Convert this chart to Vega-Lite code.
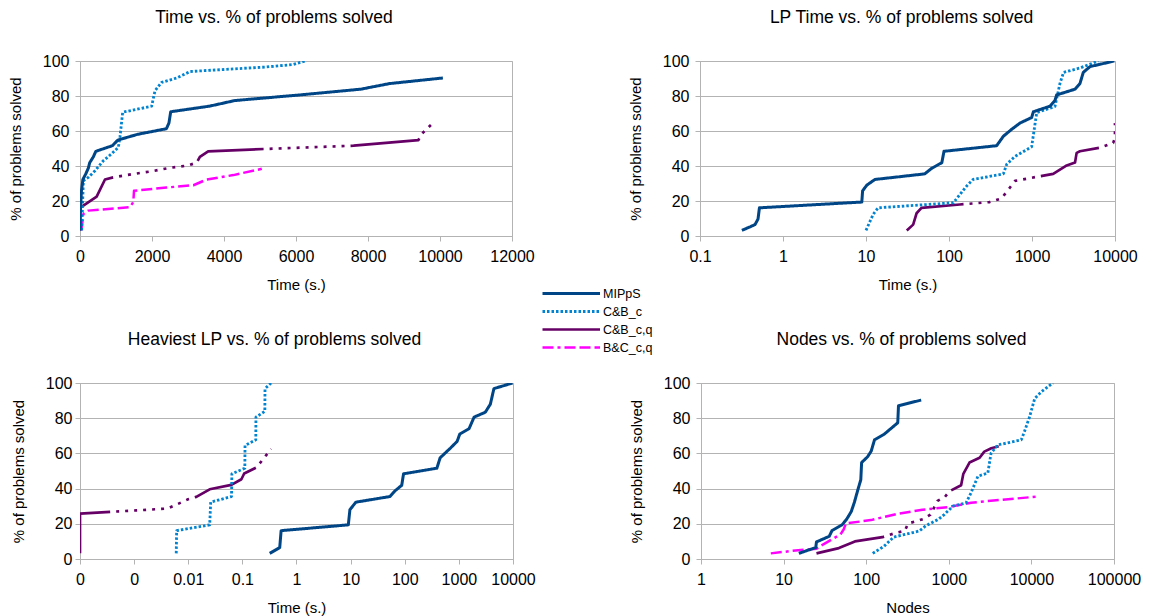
{
  "$schema": "https://vega.github.io/schema/vega-lite/v6.json",
  "background": "white",
  "padding": {"left": 7, "top": 8, "right": 5, "bottom": 5},
  "config": {
    "font": "Liberation Sans",
    "axis": {"labelFont": "Liberation Sans", "labelFontSize": 16, "labelColor": "#000", "titleFont": "Liberation Sans", "titleFontSize": 15, "titleFontWeight": "normal", "titleColor": "#000", "domainColor": "#b3b3b3", "tickColor": "#b3b3b3", "gridColor": "#b3b3b3", "tickSize": 5, "labelOverlap": false},
    "axisX": {"grid": false, "labelPadding": 7, "titlePadding": 13, "labelFlush": false},
    "axisY": {"grid": true, "labelPadding": 6, "titlePadding": 19},
    "view": {"stroke": "#b3b3b3", "strokeWidth": 1},
    "title": {"font": "Liberation Sans", "fontSize": 17.5, "fontWeight": "normal", "color": "#000", "anchor": "middle", "offset": 27},
    "legend": {"orient": "none", "legendX": 461, "legendY": 226, "symbolType": "M-1,0H10.5", "symbolSize": 100, "symbolStrokeWidth": 1.5, "labelFont": "Liberation Sans", "labelFontSize": 12.5, "labelColor": "#000", "labelOffset": 49, "rowPadding": 5, "title": null}
  },
  "data": {"values": [
    {"p":"time","s":"B&C_c,q","x":40,"y":3.2},{"p":"time","s":"B&C_c,q","x":47,"y":5},{"p":"time","s":"B&C_c,q","x":93,"y":12.6},{"p":"time","s":"B&C_c,q","x":231,"y":14.5},{"p":"time","s":"B&C_c,q","x":1389,"y":16.5},{"p":"time","s":"B&C_c,q","x":1481,"y":19.4},{"p":"time","s":"B&C_c,q","x":1500,"y":25.8},{"p":"time","s":"B&C_c,q","x":2400,"y":27.7},{"p":"time","s":"B&C_c,q","x":3150,"y":29},{"p":"time","s":"B&C_c,q","x":3520,"y":32.3},{"p":"time","s":"B&C_c,q","x":4260,"y":34.8},{"p":"time","s":"B&C_c,q","x":5050,"y":38.4},
    {"p":"time","s":"C&B_c,q","x":0,"y":3.2},{"p":"time","s":"C&B_c,q","x":5,"y":16.1},{"p":"time","s":"C&B_c,q","x":93,"y":17.3},{"p":"time","s":"C&B_c,q","x":463,"y":22.5},{"p":"time","s":"C&B_c,q","x":694,"y":32.3},{"p":"time","s":"C&B_c,q","x":925,"y":33.5},{"p":"time","s":"C&B_c,q","x":1500,"y":35.5},{"p":"time","s":"C&B_c,q","x":2000,"y":37},{"p":"time","s":"C&B_c,q","x":2500,"y":39},{"p":"time","s":"C&B_c,q","x":3000,"y":40.3},{"p":"time","s":"C&B_c,q","x":3240,"y":41.9},{"p":"time","s":"C&B_c,q","x":3330,"y":45.2},{"p":"time","s":"C&B_c,q","x":3560,"y":48.4},{"p":"time","s":"C&B_c,q","x":5100,"y":49.7},{"p":"time","s":"C&B_c,q","x":7600,"y":51.6},{"p":"time","s":"C&B_c,q","x":9400,"y":54.8},{"p":"time","s":"C&B_c,q","x":9480,"y":58.1},{"p":"time","s":"C&B_c,q","x":9800,"y":64.5},
    {"p":"time","s":"C&B_c","x":47,"y":3.2},{"p":"time","s":"C&B_c","x":93,"y":31.6},{"p":"time","s":"C&B_c","x":231,"y":33.5},{"p":"time","s":"C&B_c","x":417,"y":37.3},{"p":"time","s":"C&B_c","x":648,"y":43},{"p":"time","s":"C&B_c","x":880,"y":47},{"p":"time","s":"C&B_c","x":1065,"y":50.7},{"p":"time","s":"C&B_c","x":1111,"y":56.6},{"p":"time","s":"C&B_c","x":1185,"y":70.7},{"p":"time","s":"C&B_c","x":1990,"y":74.2},{"p":"time","s":"C&B_c","x":2083,"y":83},{"p":"time","s":"C&B_c","x":2269,"y":87.8},{"p":"time","s":"C&B_c","x":2685,"y":90.3},{"p":"time","s":"C&B_c","x":3060,"y":94},{"p":"time","s":"C&B_c","x":5185,"y":96.6},{"p":"time","s":"C&B_c","x":5925,"y":98},{"p":"time","s":"C&B_c","x":6250,"y":100},
    {"p":"time","s":"MIPpS","x":0,"y":3.2},{"p":"time","s":"MIPpS","x":5,"y":10},{"p":"time","s":"MIPpS","x":15,"y":16.1},{"p":"time","s":"MIPpS","x":40,"y":25.8},{"p":"time","s":"MIPpS","x":80,"y":32.3},{"p":"time","s":"MIPpS","x":160,"y":35.5},{"p":"time","s":"MIPpS","x":230,"y":38.7},{"p":"time","s":"MIPpS","x":270,"y":41.9},{"p":"time","s":"MIPpS","x":370,"y":45.2},{"p":"time","s":"MIPpS","x":440,"y":48.4},{"p":"time","s":"MIPpS","x":900,"y":51.6},{"p":"time","s":"MIPpS","x":1050,"y":54.8},{"p":"time","s":"MIPpS","x":1600,"y":58.1},{"p":"time","s":"MIPpS","x":2400,"y":61.3},{"p":"time","s":"MIPpS","x":2470,"y":64.5},{"p":"time","s":"MIPpS","x":2520,"y":71},{"p":"time","s":"MIPpS","x":3600,"y":74.2},{"p":"time","s":"MIPpS","x":4300,"y":77.4},{"p":"time","s":"MIPpS","x":6100,"y":80.6},{"p":"time","s":"MIPpS","x":7800,"y":83.9},{"p":"time","s":"MIPpS","x":8600,"y":87.1},{"p":"time","s":"MIPpS","x":10080,"y":90.3},

    {"p":"lp","s":"C&B_c,q","x":31,"y":3.2},{"p":"lp","s":"C&B_c,q","x":37,"y":6.5},{"p":"lp","s":"C&B_c,q","x":40.7,"y":13},{"p":"lp","s":"C&B_c,q","x":46.6,"y":16.1},{"p":"lp","s":"C&B_c,q","x":135,"y":18},{"p":"lp","s":"C&B_c,q","x":309,"y":19.4},{"p":"lp","s":"C&B_c,q","x":430,"y":21.5},{"p":"lp","s":"C&B_c,q","x":540,"y":27.6},{"p":"lp","s":"C&B_c,q","x":625,"y":31.5},{"p":"lp","s":"C&B_c,q","x":1140,"y":33.8},{"p":"lp","s":"C&B_c,q","x":1800,"y":35.5},{"p":"lp","s":"C&B_c,q","x":2620,"y":40.3},{"p":"lp","s":"C&B_c,q","x":3300,"y":42},{"p":"lp","s":"C&B_c,q","x":3450,"y":47.5},{"p":"lp","s":"C&B_c,q","x":3780,"y":48.4},{"p":"lp","s":"C&B_c,q","x":6600,"y":50.5},{"p":"lp","s":"C&B_c,q","x":9500,"y":53.2},{"p":"lp","s":"C&B_c,q","x":9990,"y":56},{"p":"lp","s":"C&B_c,q","x":9995,"y":61.3},{"p":"lp","s":"C&B_c,q","x":10000,"y":64.5},
    {"p":"lp","s":"C&B_c","x":10,"y":3.2},{"p":"lp","s":"C&B_c","x":12.2,"y":12.4},{"p":"lp","s":"C&B_c","x":14,"y":16.1},{"p":"lp","s":"C&B_c","x":113,"y":19},{"p":"lp","s":"C&B_c","x":163,"y":28.5},{"p":"lp","s":"C&B_c","x":195,"y":32.3},{"p":"lp","s":"C&B_c","x":452,"y":35.5},{"p":"lp","s":"C&B_c","x":496,"y":41},{"p":"lp","s":"C&B_c","x":625,"y":45.5},{"p":"lp","s":"C&B_c","x":990,"y":51},{"p":"lp","s":"C&B_c","x":1140,"y":70.5},{"p":"lp","s":"C&B_c","x":1890,"y":74},{"p":"lp","s":"C&B_c","x":2170,"y":87.1},{"p":"lp","s":"C&B_c","x":2400,"y":93.5},{"p":"lp","s":"C&B_c","x":3780,"y":96},{"p":"lp","s":"C&B_c","x":6300,"y":100},
    {"p":"lp","s":"MIPpS","x":0.32,"y":3.2},{"p":"lp","s":"MIPpS","x":0.46,"y":6.5},{"p":"lp","s":"MIPpS","x":0.5,"y":9.7},{"p":"lp","s":"MIPpS","x":0.52,"y":16.1},{"p":"lp","s":"MIPpS","x":8.9,"y":19.4},{"p":"lp","s":"MIPpS","x":9.1,"y":25.8},{"p":"lp","s":"MIPpS","x":10.2,"y":29},{"p":"lp","s":"MIPpS","x":12.8,"y":32.3},{"p":"lp","s":"MIPpS","x":51,"y":35.5},{"p":"lp","s":"MIPpS","x":62,"y":38.7},{"p":"lp","s":"MIPpS","x":82,"y":41.9},{"p":"lp","s":"MIPpS","x":87,"y":48.4},{"p":"lp","s":"MIPpS","x":375,"y":51.6},{"p":"lp","s":"MIPpS","x":452,"y":57},{"p":"lp","s":"MIPpS","x":570,"y":61},{"p":"lp","s":"MIPpS","x":715,"y":64.5},{"p":"lp","s":"MIPpS","x":990,"y":67.7},{"p":"lp","s":"MIPpS","x":1040,"y":71},{"p":"lp","s":"MIPpS","x":1650,"y":74.2},{"p":"lp","s":"MIPpS","x":1890,"y":77.4},{"p":"lp","s":"MIPpS","x":1980,"y":80.6},{"p":"lp","s":"MIPpS","x":3300,"y":83.9},{"p":"lp","s":"MIPpS","x":3780,"y":87.1},{"p":"lp","s":"MIPpS","x":4150,"y":93.5},{"p":"lp","s":"MIPpS","x":5000,"y":96.8},{"p":"lp","s":"MIPpS","x":9800,"y":100},

    {"p":"heavy","s":"C&B_c,q","x":0.0001,"y":3.2},{"p":"heavy","s":"C&B_c,q","x":0.0001,"y":25.8},{"p":"heavy","s":"C&B_c,q","x":0.0004,"y":26.9},{"p":"heavy","s":"C&B_c,q","x":0.0011,"y":27.6},{"p":"heavy","s":"C&B_c,q","x":0.0042,"y":28.7},{"p":"heavy","s":"C&B_c,q","x":0.0099,"y":33.9},{"p":"heavy","s":"C&B_c,q","x":0.0141,"y":35.3},{"p":"heavy","s":"C&B_c,q","x":0.0249,"y":39.6},{"p":"heavy","s":"C&B_c,q","x":0.0627,"y":42.1},{"p":"heavy","s":"C&B_c,q","x":0.096,"y":45.3},{"p":"heavy","s":"C&B_c,q","x":0.108,"y":48.6},{"p":"heavy","s":"C&B_c,q","x":0.182,"y":52},{"p":"heavy","s":"C&B_c,q","x":0.34,"y":62.5},
    {"p":"heavy","s":"C&B_c","x":0.006,"y":3.2},{"p":"heavy","s":"C&B_c","x":0.0061,"y":16.1},{"p":"heavy","s":"C&B_c","x":0.0249,"y":19.4},{"p":"heavy","s":"C&B_c","x":0.026,"y":32.3},{"p":"heavy","s":"C&B_c","x":0.063,"y":35.5},{"p":"heavy","s":"C&B_c","x":0.064,"y":48.4},{"p":"heavy","s":"C&B_c","x":0.111,"y":51.6},{"p":"heavy","s":"C&B_c","x":0.112,"y":64.5},{"p":"heavy","s":"C&B_c","x":0.177,"y":67.7},{"p":"heavy","s":"C&B_c","x":0.178,"y":80.6},{"p":"heavy","s":"C&B_c","x":0.26,"y":83.9},{"p":"heavy","s":"C&B_c","x":0.262,"y":96.8},{"p":"heavy","s":"C&B_c","x":0.34,"y":100},
    {"p":"heavy","s":"MIPpS","x":0.32,"y":3.2},{"p":"heavy","s":"MIPpS","x":0.49,"y":6.5},{"p":"heavy","s":"MIPpS","x":0.52,"y":16.1},{"p":"heavy","s":"MIPpS","x":9.06,"y":19.4},{"p":"heavy","s":"MIPpS","x":9.7,"y":28},{"p":"heavy","s":"MIPpS","x":12.5,"y":32.3},{"p":"heavy","s":"MIPpS","x":53.5,"y":35.5},{"p":"heavy","s":"MIPpS","x":66,"y":38.7},{"p":"heavy","s":"MIPpS","x":88,"y":41.9},{"p":"heavy","s":"MIPpS","x":95,"y":48.4},{"p":"heavy","s":"MIPpS","x":392,"y":51.6},{"p":"heavy","s":"MIPpS","x":451,"y":57.5},{"p":"heavy","s":"MIPpS","x":692,"y":62.9},{"p":"heavy","s":"MIPpS","x":927,"y":66.8},{"p":"heavy","s":"MIPpS","x":1040,"y":71},{"p":"heavy","s":"MIPpS","x":1540,"y":74},{"p":"heavy","s":"MIPpS","x":1910,"y":80.6},{"p":"heavy","s":"MIPpS","x":3080,"y":83.4},{"p":"heavy","s":"MIPpS","x":3820,"y":88},{"p":"heavy","s":"MIPpS","x":4440,"y":96.8},{"p":"heavy","s":"MIPpS","x":9800,"y":100},

    {"p":"nodes","s":"B&C_c,q","x":7,"y":3.2},{"p":"nodes","s":"B&C_c,q","x":15,"y":5},{"p":"nodes","s":"B&C_c,q","x":25,"y":5.8},{"p":"nodes","s":"B&C_c,q","x":29.9,"y":8.2},{"p":"nodes","s":"B&C_c,q","x":48.9,"y":14},{"p":"nodes","s":"B&C_c,q","x":53.5,"y":16.9},{"p":"nodes","s":"B&C_c,q","x":56.8,"y":20.2},{"p":"nodes","s":"B&C_c,q","x":114,"y":22.1},{"p":"nodes","s":"B&C_c,q","x":234,"y":25.6},{"p":"nodes","s":"B&C_c,q","x":479,"y":28},{"p":"nodes","s":"B&C_c,q","x":977,"y":29.5},{"p":"nodes","s":"B&C_c,q","x":1860,"y":32},{"p":"nodes","s":"B&C_c,q","x":2970,"y":32.9},{"p":"nodes","s":"B&C_c,q","x":12000,"y":35.5},
    {"p":"nodes","s":"C&B_c,q","x":25,"y":3.2},{"p":"nodes","s":"C&B_c,q","x":46.7,"y":6.2},{"p":"nodes","s":"C&B_c,q","x":73,"y":10},{"p":"nodes","s":"C&B_c,q","x":157,"y":12.4},{"p":"nodes","s":"C&B_c,q","x":234,"y":15},{"p":"nodes","s":"C&B_c,q","x":293,"y":15.9},{"p":"nodes","s":"C&B_c,q","x":321,"y":20.2},{"p":"nodes","s":"C&B_c,q","x":401,"y":21.4},{"p":"nodes","s":"C&B_c,q","x":488,"y":22.7},{"p":"nodes","s":"C&B_c,q","x":600,"y":25.2},{"p":"nodes","s":"C&B_c,q","x":731,"y":33},{"p":"nodes","s":"C&B_c,q","x":898,"y":35.3},{"p":"nodes","s":"C&B_c,q","x":1020,"y":38.5},{"p":"nodes","s":"C&B_c,q","x":1410,"y":41.9},{"p":"nodes","s":"C&B_c,q","x":1500,"y":48.4},{"p":"nodes","s":"C&B_c,q","x":1780,"y":54.8},{"p":"nodes","s":"C&B_c,q","x":2360,"y":57.5},{"p":"nodes","s":"C&B_c,q","x":2690,"y":61},{"p":"nodes","s":"C&B_c,q","x":3270,"y":62.9},{"p":"nodes","s":"C&B_c,q","x":4340,"y":64.5},
    {"p":"nodes","s":"C&B_c","x":120,"y":3.2},{"p":"nodes","s":"C&B_c","x":164,"y":7.2},{"p":"nodes","s":"C&B_c","x":214,"y":12.4},{"p":"nodes","s":"C&B_c","x":438,"y":15.9},{"p":"nodes","s":"C&B_c","x":524,"y":18.8},{"p":"nodes","s":"C&B_c","x":750,"y":22.6},{"p":"nodes","s":"C&B_c","x":888,"y":25.4},{"p":"nodes","s":"C&B_c","x":1120,"y":30},{"p":"nodes","s":"C&B_c","x":1620,"y":31.9},{"p":"nodes","s":"C&B_c","x":1860,"y":37.6},{"p":"nodes","s":"C&B_c","x":2250,"y":47},{"p":"nodes","s":"C&B_c","x":2970,"y":48.9},{"p":"nodes","s":"C&B_c","x":3250,"y":60.2},{"p":"nodes","s":"C&B_c","x":3930,"y":64.8},{"p":"nodes","s":"C&B_c","x":7540,"y":67.7},{"p":"nodes","s":"C&B_c","x":8240,"y":72.4},{"p":"nodes","s":"C&B_c","x":9510,"y":80.8},{"p":"nodes","s":"C&B_c","x":10970,"y":91.2},{"p":"nodes","s":"C&B_c","x":13190,"y":95},{"p":"nodes","s":"C&B_c","x":18240,"y":100},
    {"p":"nodes","s":"MIPpS","x":15.3,"y":3.2},{"p":"nodes","s":"MIPpS","x":24.5,"y":6.5},{"p":"nodes","s":"MIPpS","x":25,"y":9.7},{"p":"nodes","s":"MIPpS","x":35.7,"y":12.9},{"p":"nodes","s":"MIPpS","x":38.5,"y":16.1},{"p":"nodes","s":"MIPpS","x":51,"y":19.4},{"p":"nodes","s":"MIPpS","x":58,"y":22.6},{"p":"nodes","s":"MIPpS","x":66,"y":27},{"p":"nodes","s":"MIPpS","x":72,"y":32.3},{"p":"nodes","s":"MIPpS","x":80,"y":40},{"p":"nodes","s":"MIPpS","x":86,"y":45},{"p":"nodes","s":"MIPpS","x":88,"y":54.8},{"p":"nodes","s":"MIPpS","x":104,"y":58.1},{"p":"nodes","s":"MIPpS","x":115,"y":61.3},{"p":"nodes","s":"MIPpS","x":126,"y":67.7},{"p":"nodes","s":"MIPpS","x":166,"y":71},{"p":"nodes","s":"MIPpS","x":200,"y":74.2},{"p":"nodes","s":"MIPpS","x":241,"y":77.4},{"p":"nodes","s":"MIPpS","x":246,"y":87.1},{"p":"nodes","s":"MIPpS","x":463,"y":90.3}
  ]},
  "spacing": 37,
  "vconcat": [
    {"spacing": 92, "hconcat": [
      {"width": 432, "height": 175,
       "title": {"text": "Time vs. % of problems solved", "dx": -22},
       "transform": [{"filter": "datum.p === 'time'"}],
       "mark": {"type": "line", "strokeCap": "butt", "strokeJoin": "round", "clip": true},
       "encoding": {
         "x": {"field": "x", "type": "quantitative", "scale": {"domain": [0, 12000], "nice": false, "zero": false}, "axis": {"values": [0,2000,4000,6000,8000,10000,12000], "format": "d", "title": "Time (s.)"}},
         "y": {"field": "y", "type": "quantitative", "scale": {"domain": [0, 100], "nice": false}, "axis": {"values": [0,20,40,60,80,100], "title": "% of problems solved"}},
         "color": {"field": "s", "type": "nominal", "scale": {"domain": ["MIPpS","C&B_c","C&B_c,q","B&C_c,q"], "range": ["#004586","#0084d1","#660066","#ff00ff"]}, "legend": {"encode": {"symbols": {"update": {"strokeDash": {"signal": "datum.value === 'C&B_c' ? [1.5,1.5] : datum.value === 'C&B_c,q' ? [13,4,3,4,3,4,3,4,40,4] : datum.value === 'B&C_c,q' ? [2,4,2,4,9,4,9,4,9,4,9,4] : [1,0]"}}}}}},
         "strokeDash": {"field": "s", "type": "nominal", "scale": {"domain": ["MIPpS","C&B_c","C&B_c,q","B&C_c,q"], "range": [[1,0],[2.5,2],[70,6,3,6,3,6,3,6,3,6,3,6,3,6,3,6,3,6,3,6],[11,4,3,4,11,4,11,4]]}, "legend": null},
         "strokeWidth": {"field": "s", "type": "nominal", "scale": {"domain": ["MIPpS","C&B_c","C&B_c,q","B&C_c,q"], "range": [3,2.5,2.8,3]}, "legend": null},
         "order": [{"field": "x", "type": "quantitative"}, {"field": "y", "type": "quantitative"}]
       }},
      {"width": 415, "height": 175,
       "title": {"text": "LP Time vs. % of problems solved", "dx": -6},
       "transform": [{"filter": "datum.p === 'lp'"}],
       "mark": {"type": "line", "strokeCap": "butt", "strokeJoin": "round", "clip": true},
       "encoding": {
         "x": {"field": "x", "type": "quantitative", "scale": {"type": "log", "domain": [0.1, 10000], "nice": false}, "axis": {"values": [0.1,1,10,100,1000,10000], "format": "~g", "title": "Time (s.)"}},
         "y": {"field": "y", "type": "quantitative", "scale": {"domain": [0, 100], "nice": false}, "axis": {"values": [0,20,40,60,80,100], "title": "% of problems solved"}},
         "color": {"field": "s", "type": "nominal", "scale": {"domain": ["MIPpS","C&B_c","C&B_c,q","B&C_c,q"], "range": ["#004586","#0084d1","#660066","#ff00ff"]}},
         "strokeDash": {"field": "s", "type": "nominal", "scale": {"domain": ["MIPpS","C&B_c","C&B_c,q","B&C_c,q"], "range": [[1,0],[2.5,2],[70,6,3,6,3,6,3,6,3,6,3,6,3,6,3,6,3,6,3,6],[11,4,3,4,11,4,11,4]]}, "legend": null},
         "strokeWidth": {"field": "s", "type": "nominal", "scale": {"domain": ["MIPpS","C&B_c","C&B_c,q","B&C_c,q"], "range": [3,2.5,2.8,3]}, "legend": null},
         "order": [{"field": "x", "type": "quantitative"}, {"field": "y", "type": "quantitative"}]
       }}
    ]},
    {"spacing": 92, "hconcat": [
      {"width": 433, "height": 176,
       "title": {"text": "Heaviest LP vs. % of problems solved", "dx": -22},
       "transform": [{"filter": "datum.p === 'heavy'"}],
       "mark": {"type": "line", "strokeCap": "butt", "strokeJoin": "round", "clip": true},
       "encoding": {
         "x": {"field": "x", "type": "quantitative", "scale": {"type": "log", "domain": [0.0001, 10000], "nice": false}, "axis": {"values": [0.0001,0.001,0.01,0.1,1,10,100,1000,10000], "labelExpr": "datum.value < 0.005 ? '0' : format(datum.value, '~g')", "title": "Time (s.)"}},
         "y": {"field": "y", "type": "quantitative", "scale": {"domain": [0, 100], "nice": false}, "axis": {"values": [0,20,40,60,80,100], "labelPadding": 3, "title": "% of problems solved"}},
         "color": {"field": "s", "type": "nominal", "scale": {"domain": ["MIPpS","C&B_c","C&B_c,q","B&C_c,q"], "range": ["#004586","#0084d1","#660066","#ff00ff"]}},
         "strokeDash": {"field": "s", "type": "nominal", "scale": {"domain": ["MIPpS","C&B_c","C&B_c,q","B&C_c,q"], "range": [[1,0],[2.5,2],[70,6,3,6,3,6,3,6,3,6,3,6,3,6,3,6,3,6,3,6],[11,4,3,4,11,4,11,4]]}, "legend": null},
         "strokeWidth": {"field": "s", "type": "nominal", "scale": {"domain": ["MIPpS","C&B_c","C&B_c,q","B&C_c,q"], "range": [3,2.5,2.8,3]}, "legend": null},
         "order": [{"field": "x", "type": "quantitative"}, {"field": "y", "type": "quantitative"}]
       }},
      {"width": 413, "height": 176,
       "title": {"text": "Nodes vs. % of problems solved", "dx": -6},
       "transform": [{"filter": "datum.p === 'nodes'"}],
       "mark": {"type": "line", "strokeCap": "butt", "strokeJoin": "round", "clip": true},
       "encoding": {
         "x": {"field": "x", "type": "quantitative", "scale": {"type": "log", "domain": [1, 100000], "nice": false}, "axis": {"values": [1,10,100,1000,10000,100000], "format": "~g", "title": "Nodes"}},
         "y": {"field": "y", "type": "quantitative", "scale": {"domain": [0, 100], "nice": false}, "axis": {"values": [0,20,40,60,80,100], "title": "% of problems solved"}},
         "color": {"field": "s", "type": "nominal", "scale": {"domain": ["MIPpS","C&B_c","C&B_c,q","B&C_c,q"], "range": ["#004586","#0084d1","#660066","#ff00ff"]}},
         "strokeDash": {"field": "s", "type": "nominal", "scale": {"domain": ["MIPpS","C&B_c","C&B_c,q","B&C_c,q"], "range": [[1,0],[2.5,2],[70,6,3,6,3,6,3,6,3,6,3,6,3,6,3,6,3,6,3,6],[11,4,3,4,11,4,11,4]]}, "legend": null},
         "strokeWidth": {"field": "s", "type": "nominal", "scale": {"domain": ["MIPpS","C&B_c","C&B_c,q","B&C_c,q"], "range": [3,2.5,2.8,3]}, "legend": null},
         "order": [{"field": "x", "type": "quantitative"}, {"field": "y", "type": "quantitative"}]
       }}
    ]}
  ]
}
